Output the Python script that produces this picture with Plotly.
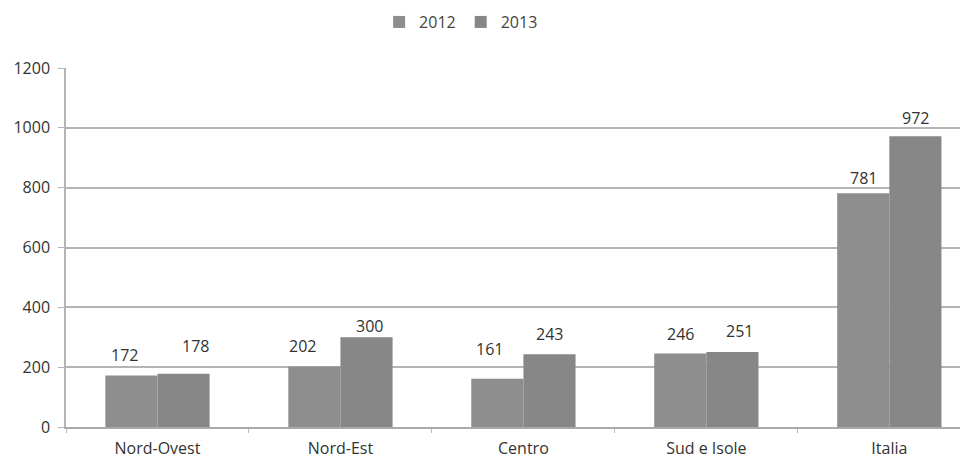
import plotly.graph_objects as go

categories = ["Nord-Ovest", "Nord-Est", "Centro", "Sud e Isole", "Italia"]
values_2012 = [172, 202, 161, 246, 781]
values_2013 = [178, 300, 243, 251, 972]
y_ticks = [0, 200, 400, 600, 800, 1000, 1200]

# label placement tweaks (pixels) relative to the top centre of each bar
label_dx_2012 = [-7, -12, -8, 0, 0]
label_dy_2012 = [21, 21, 30, 19, 15]
label_dx_2013 = [12, 3, 0, 7, 0]
label_dy_2013 = [28, 11, 20, 21, 18]

font_family = "Open Sans, Noto Sans, Liberation Sans, sans-serif"
W, H = 960, 453
L, R, T, B = 58, 0, 60, 34
n_vis = 4.93
cat_px = (W - L - R) / n_vis
bargap = 0.43
bar_px = cat_px * (1 - bargap) / 2

fig = go.Figure()
fig.add_trace(go.Bar(
    name="2012", x=categories, y=values_2012,
    marker=dict(color="#8e8e8e", line=dict(width=0)),
))
fig.add_trace(go.Bar(
    name="2013", x=categories, y=values_2013,
    marker=dict(color="#878787", line=dict(width=0)),
))

for vals, dxs, dys, sign in [(values_2012, label_dx_2012, label_dy_2012, -1),
                             (values_2013, label_dx_2013, label_dy_2013, 1)]:
    for cat, v, dx, dy in zip(categories, vals, dxs, dys):
        fig.add_annotation(
            x=cat, y=v, xref="x", yref="y", text=str(v), showarrow=False,
            xanchor="center", yanchor="middle",
            xshift=sign * bar_px / 2 + dx, yshift=dy,
            font=dict(size=16, color="#333333", family=font_family),
        )

fig.update_layout(
    width=W, height=H,
    margin=dict(l=L, r=R, t=T, b=B),
    paper_bgcolor="white", plot_bgcolor="white",
    barmode="group", bargap=bargap, bargroupgap=0,
    font=dict(family=font_family, size=16, color="#333333"),
    legend=dict(orientation="h", xref="container", x=0.472, xanchor="center",
                yref="container", y=0.969, yanchor="middle",
                font=dict(size=16, color="#444444"),
                itemwidth=30, tracegroupgap=0),
    showlegend=True,
)
fig.update_xaxes(
    range=[-0.5, -0.5 + n_vis], showline=True, linecolor="#aaaaaa", linewidth=1.5,
    ticks="outside", ticklen=4, tickcolor="#bbbbbb",
    tickson="boundaries", showgrid=False, automargin=False,
    ticklabelstandoff=6,
    tickfont=dict(size=16, color="#333333"),
)
fig.update_yaxes(
    range=[0, 1200], tickvals=y_ticks, showgrid=True, gridcolor="#b4b4b4", gridwidth=1.5,
    showline=True, linecolor="#b4b4b4", linewidth=1.5,
    ticks="outside", ticklen=6, tickcolor="#b4b4b4", automargin=False,
    ticklabelstandoff=5,
    tickfont=dict(size=16, color="#333333"), zeroline=False,
)

fig.write_html("out.html")
